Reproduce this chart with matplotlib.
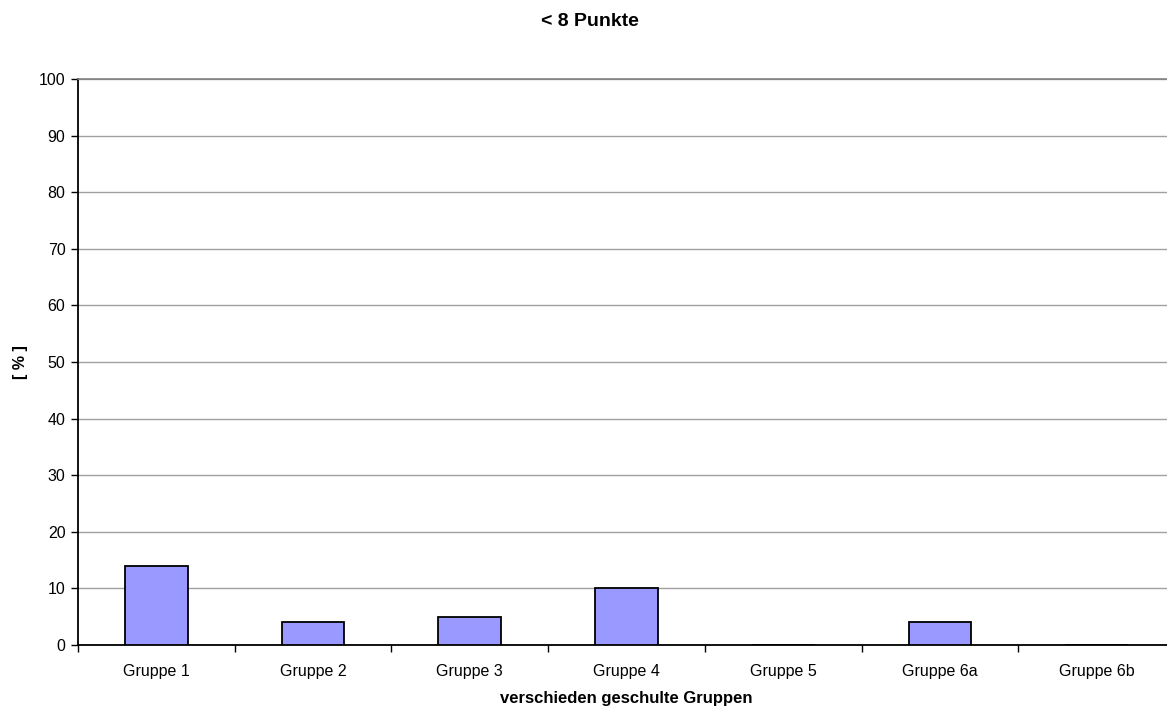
import matplotlib
matplotlib.use("Agg")
import matplotlib.pyplot as plt
import numpy as np

plt.rcParams['font.family'] = ['Liberation Sans', 'DejaVu Sans']

categories = ["Gruppe 1", "Gruppe 2", "Gruppe 3", "Gruppe 4", "Gruppe 5", "Gruppe 6a", "Gruppe 6b"]
values = [14, 4, 5, 10, 0, 4, 0]
y_ticks = [0, 10, 20, 30, 40, 50, 60, 70, 80, 90, 100]

W, H = 1167, 709
fig = plt.figure(figsize=(W / 100, H / 100), dpi=100)
# plot area runs slightly past the right edge of the canvas
ax = fig.add_axes([78 / W, 1 - 645 / H, (1175 - 78) / W, (645 - 79) / H])

x = np.arange(len(categories))
ax.bar(x, values, width=0.4, color="#9999FF", edgecolor="black", linewidth=1.3, zorder=3)

ax.set_xlim(-0.5, len(categories) - 0.5)
ax.set_ylim(0, 100)
ax.set_yticks(y_ticks)
ax.yaxis.grid(True, color="#a0a0a0", linewidth=1, zorder=0)
ax.set_axisbelow(True)

ax.set_xticks(x)
ax.set_xticklabels(categories)
ax.set_xticks(np.arange(len(categories) + 1) - 0.5, minor=True)
ax.tick_params(axis="x", which="major", length=0, pad=14, labelsize=11.5)
ax.tick_params(axis="x", which="minor", length=5, width=1, direction="out")
ax.tick_params(axis="y", length=5, width=1, direction="out", labelsize=11.5, pad=4)

ax.spines["right"].set_visible(False)
ax.spines["top"].set_color("#808080")
ax.spines["top"].set_linewidth(1.2)
ax.spines["left"].set_linewidth(1.3)
ax.spines["bottom"].set_linewidth(1.3)

fig.text((78 + 1175) / 2 / W, 1 - 699 / H, "verschieden geschulte Gruppen", fontsize=12,
         fontweight="bold", ha="center", va="center")
fig.text(20 / W, 1 - 362 / H, "[ % ]", fontsize=11.5, fontweight="bold",
         rotation=90, ha="center", va="center")
fig.text(589.5 / W, 1 - 22 / H, "< 8 Punkte", fontsize=14, fontweight="bold",
         ha="center", va="center")

fig.savefig("out.png", dpi=100)
